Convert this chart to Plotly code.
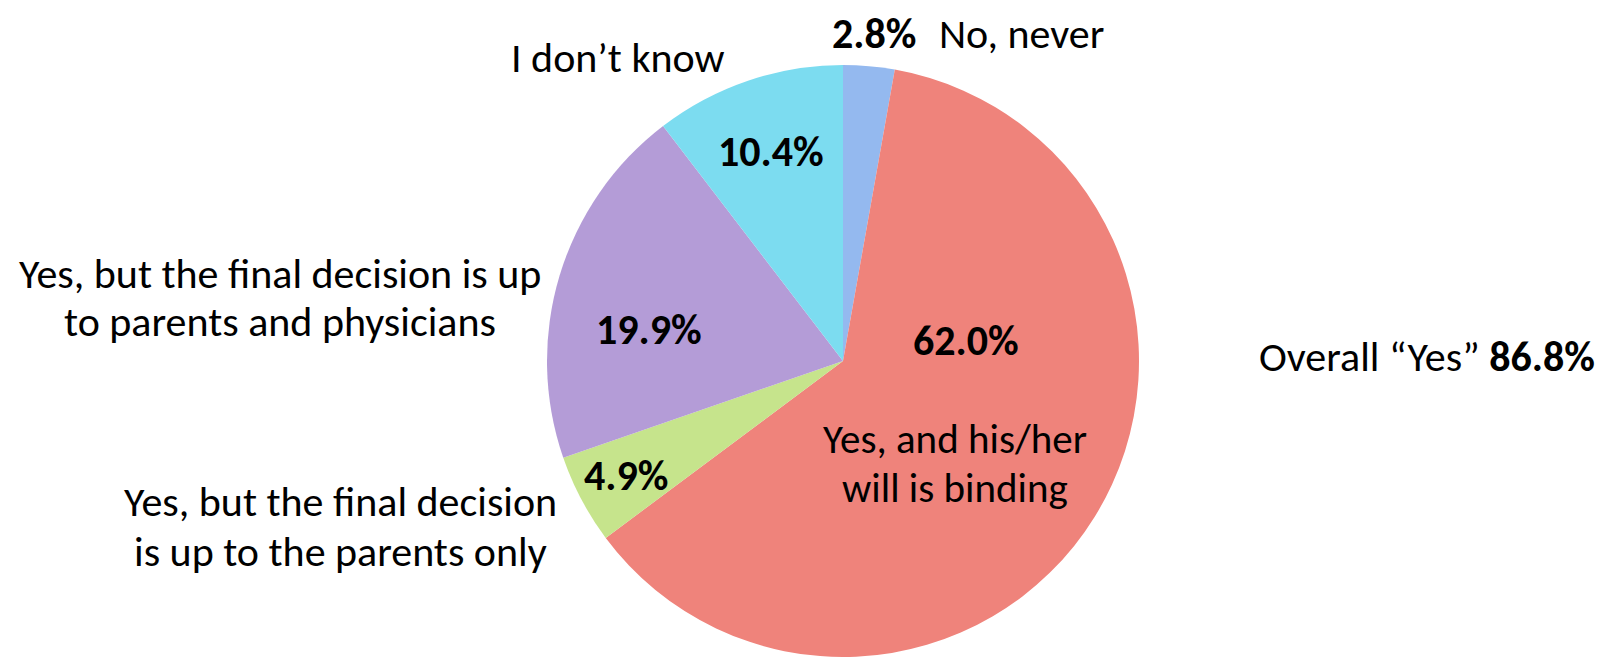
import plotly.graph_objects as go

categories = ["No, never", "Yes, and his/her will is binding",
              "Yes, but the final decision is up to the parents only",
              "Yes, but the final decision is up to parents and physicians",
              "I don't know"]
values = [2.8, 62.0, 4.9, 19.9, 10.4]
pct_labels = ["2.8%", "62.0%", "4.9%", "19.9%", "10.4%"]
colors = ["#94b9ef", "#ef837b", "#c6e48c", "#b49cd7", "#7cdcf0"]
overall_yes = "86.8%"

W, H = 1601, 658
cx, cy, r = 843, 361, 296

fig = go.Figure(go.Pie(
    labels=categories, values=values, sort=False, direction="clockwise",
    rotation=0, textinfo="none", hoverinfo="label+percent",
    marker=dict(colors=colors, line=dict(width=0)),
    domain=dict(x=[(cx - r) / W, (cx + r) / W], y=[(H - cy - r) / H, (H - cy + r) / H]),
    showlegend=False,
))

FONT = "Carlito, Lato, sans-serif"
SIZE = 42

def ann(x, y, text, xanchor="center", size=SIZE):
    fig.add_annotation(x=x / W, y=1 - y / H, xref="paper", yref="paper", text=text,
                       showarrow=False, xanchor=xanchor, yanchor="middle",
                       font=dict(family=FONT, size=size, color="black"), align="center")

# in-slice percentages
ann(771, 151, f"<b>{pct_labels[4]}</b>")
ann(649, 329, f"<b>{pct_labels[3]}</b>")
ann(626, 475, f"<b>{pct_labels[2]}</b>")
ann(966, 341, f"<b>{pct_labels[1]}</b>")
ann(955, 439, "Yes, and his/her", size=41)
ann(955, 488, "will is binding", size=41)

# outside labels
ann(874, 33, f"<b>{pct_labels[0]}</b>")
ann(1022, 33, categories[0])
ann(618, 58, "I don’t know")
ann(280, 273, "Yes, but the final decision is up")
ann(280, 321, "to parents and physicians")
ann(340, 501, "Yes, but the final decision")
ann(340, 551, "is up to the parents only")
ann(1597, 357, f"Overall “Yes” <b>{overall_yes}</b>", xanchor="right")

fig.update_layout(width=W, height=H, margin=dict(l=0, r=0, t=0, b=0),
                  paper_bgcolor="white", plot_bgcolor="white")
fig.write_html("out.html")
